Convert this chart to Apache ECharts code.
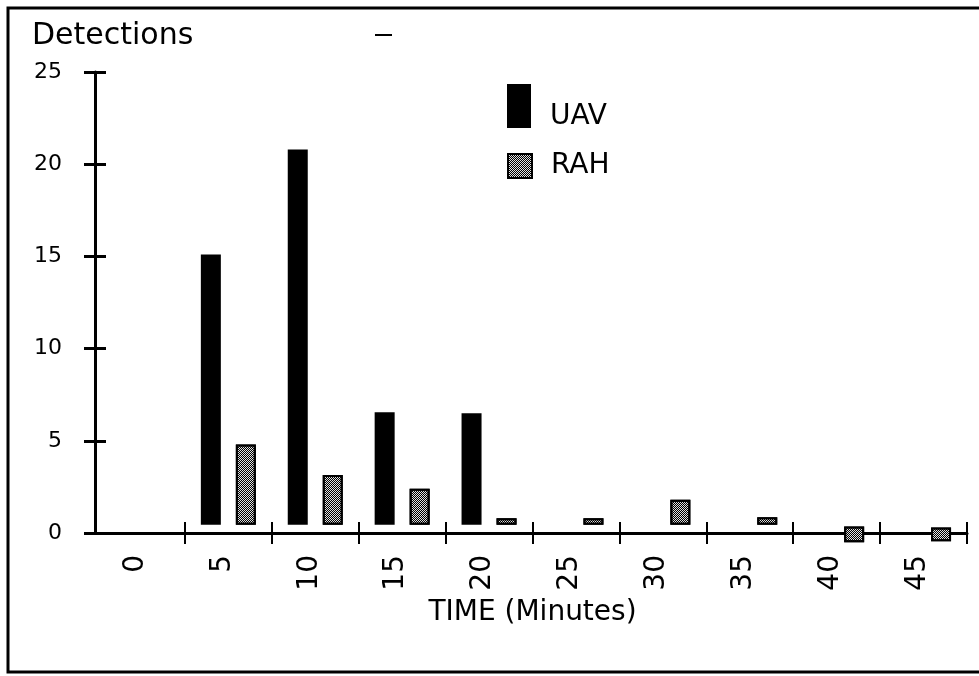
<!DOCTYPE html>
<html>
<head>
<meta charset="utf-8">
<script src="https://cdn.jsdelivr.net/npm/echarts@6/dist/echarts.min.js"></script>
<style>
html,body{margin:0;padding:0;background:#fff;}
#chart{width:979px;height:676px;}
</style>
</head>
<body>
<div id="chart"></div>
<script>
// Category labels (minutes)
var categories = ['0', '5', '10', '15', '20', '25', '30', '35', '40', '45'];
// Top of each bar (detections)
var uavTop = [null, 15.1, 20.8, 6.55, 6.5, null, null, null, null, null];
var rahTop = [null, 4.8, 3.15, 2.4, 0.8, 0.8, 1.8, 0.85, 0.35, 0.3];
// Bottom of each bar (bars float slightly above the axis in the original)
var uavBottom = [null, 0.45, 0.45, 0.45, 0.45, null, null, null, null, null];
var rahBottom = [null, 0.45, 0.45, 0.45, 0.45, 0.45, 0.45, 0.45, -0.5, -0.45];
// Y tick values
var yTicks = [0, 5, 10, 15, 20, 25];

function diff(top, bottom) {
  return top.map(function (t, i) { return t == null ? null : +(t - bottom[i]).toFixed(3); });
}

var chart = echarts.init(document.getElementById('chart'), null, { renderer: 'canvas' });
var baseFont = 'DejaVu Sans';
var rahDecal = { color: '#000', symbol: 'rect', symbolSize: 1, dashArrayX: [[1, 1], [0, 1, 1, 0]], dashArrayY: [1, 0] };
var skipFirst = function (index) { return index !== 0; };
var option = {
  animation: false,
  backgroundColor: '#fff',
  title: {
    text: 'Detections',
    left: 27, top: 16,
    textStyle: { fontFamily: baseFont, fontSize: 30, fontWeight: 'normal', color: '#000' }
  },
  legend: [
    {
      data: ['UAV'], left: 507, top: 84, orient: 'vertical', icon: 'rect', padding: 0,
      itemWidth: 24, itemHeight: 44,
      formatter: '{u|{name}}',
      textStyle: {
        fontFamily: baseFont, fontSize: 28, color: '#000', padding: [0, 0, 0, 14],
        rich: { u: { fontFamily: baseFont, fontSize: 28, color: '#000', padding: [22, 0, 0, 0] } }
      }
    },
    {
      data: ['RAH'], left: 507, top: 152, orient: 'vertical', icon: 'rect', padding: 0,
      itemWidth: 24, itemHeight: 24,
      textStyle: { fontFamily: baseFont, fontSize: 28, color: '#000', padding: [2, 0, 0, 14] }
    }
  ],
  grid: { left: 98, right: 12, top: 72, bottom: 143, containLabel: false },
  xAxis: [
    {
      type: 'category', data: categories, boundaryGap: true, position: 'bottom',
      axisLine: { lineStyle: { color: '#000', width: 3 } },
      axisTick: { show: true, length: 11, interval: skipFirst, lineStyle: { color: '#000', width: 2 } },
      axisLabel: {
        rotate: 90, margin: 22, color: '#000', interval: 0,
        formatter: '{d|{value}}',
        rich: { d: { fontFamily: baseFont, fontSize: 28, color: '#000', padding: [0, 0, 12, 0] } }
      },
      name: 'TIME (Minutes)', nameLocation: 'middle', nameGap: 60,
      nameTextStyle: { fontFamily: baseFont, fontSize: 28, color: '#000' }
    },
    {
      type: 'category', data: categories, boundaryGap: true, position: 'bottom',
      axisLine: { show: false },
      axisTick: { show: true, inside: true, length: 11, interval: skipFirst, lineStyle: { color: '#000', width: 2 } },
      axisLabel: { show: false }
    }
  ],
  yAxis: [
    {
      type: 'value', min: 0, max: 25, interval: 5, offset: 3,
      axisLine: { show: true, lineStyle: { color: '#000', width: 3 } },
      axisTick: { show: true, length: 11, lineStyle: { color: '#000', width: 3 } },
      splitLine: { show: false },
      axisLabel: {
        margin: 33, color: '#000', fontFamily: baseFont, fontSize: 22,
        formatter: function (v) { return yTicks.indexOf(v) >= 0 ? String(v) : ''; }
      }
    },
    {
      type: 'value', min: 0, max: 25, interval: 5, position: 'left', offset: 3,
      axisLine: { show: false },
      axisTick: { show: true, inside: true, length: 11, lineStyle: { color: '#000', width: 3 } },
      splitLine: { show: false },
      axisLabel: { show: false }
    }
  ],
  series: [
    {
      name: 'uavBase', type: 'bar', stack: 'u', stackStrategy: 'all', clip: false,
      data: uavBottom, barWidth: 20, barGap: '75%', silent: true,
      itemStyle: { color: 'rgba(0,0,0,0)' }
    },
    {
      name: 'UAV', type: 'bar', stack: 'u', stackStrategy: 'all', clip: false,
      data: diff(uavTop, uavBottom), barWidth: 20, barGap: '75%',
      itemStyle: { color: '#000' }
    },
    {
      name: 'rahBase', type: 'bar', stack: 'r', stackStrategy: 'all', clip: false,
      data: rahBottom, barWidth: 20, barGap: '75%', silent: true,
      itemStyle: { color: 'rgba(0,0,0,0)' }
    },
    {
      name: 'RAH', type: 'bar', stack: 'r', stackStrategy: 'all', clip: false,
      data: diff(rahTop, rahBottom), barWidth: 20, barGap: '75%',
      itemStyle: {
        color: '#e0e0e0', borderColor: '#000', borderWidth: 2,
        decal: rahDecal
      }
    }
  ],
  graphic: [
    {
      type: 'rect', silent: true, z: -1,
      shape: { x: 8, y: 8, width: 990, height: 664 },
      style: { fill: null, stroke: '#000', lineWidth: 3 }
    },
    {
      type: 'line', silent: true,
      shape: { x1: 375, y1: 35, x2: 392, y2: 35 },
      style: { stroke: '#000', lineWidth: 2 }
    }
  ]
};
chart.setOption(option);
</script>
</body>
</html>
